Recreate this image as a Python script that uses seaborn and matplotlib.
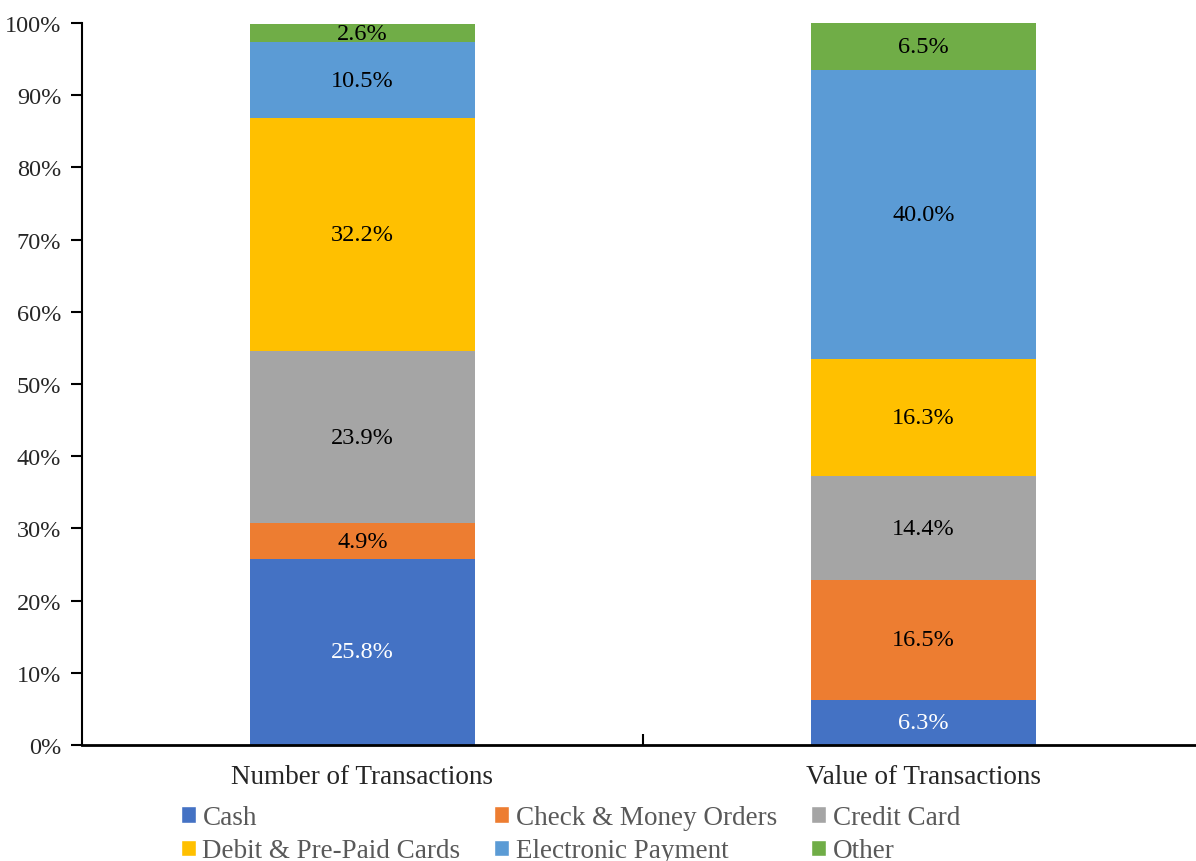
import numpy as np
import pandas as pd
import seaborn as sns
import matplotlib.pyplot as plt
from matplotlib.patches import Patch
from matplotlib.ticker import PercentFormatter

# data
groups = ['Number of Transactions', 'Value of Transactions']
methods = ['Cash', 'Check & Money Orders', 'Credit Card',
           'Debit & Pre-Paid Cards', 'Electronic Payment', 'Other']
number_share = [25.8, 4.9, 23.9, 32.2, 10.5, 2.6]
value_share = [6.3, 16.5, 14.4, 16.3, 40.0, 6.5]
colors = ['#4472C4', '#ED7D31', '#A5A5A5', '#FFC000', '#5B9BD5', '#70AD47']
label_colors = ['white', 'black', 'black', 'black', 'black', 'black']

df = pd.DataFrame({'method': methods * 2,
                   'group': [groups[0]] * 6 + [groups[1]] * 6,
                   'share': number_share + value_share})

sns.set_style('white')
plt.rcParams['font.family'] = ['Liberation Serif', 'DejaVu Serif']

fig = plt.figure(figsize=(11.96, 8.62), dpi=100)
ax = fig.add_axes([82 / 1196, 116 / 862, 1 - 82 / 1196, (746 - 24) / 862])

bottoms = np.zeros(len(groups))
for i, m in enumerate(methods):
    sub = df[df['method'] == m]
    vals = sub['share'].to_numpy()
    sns.barplot(data=sub, x='group', y='share', order=groups, color=colors[i],
                width=0.4, bottom=bottoms, saturation=1, errorbar=None, ax=ax,
                linewidth=0)
    for j, v in enumerate(vals):
        ax.text(j, bottoms[j] + v / 2, f'{v:.1f}%', ha='center', va='center',
                fontsize=17.5, color=label_colors[i])
    bottoms = bottoms + vals

ax.set_xlim(-0.5, 1.486)
ax.set_ylim(0, 100)
ax.set_yticks(np.arange(0, 101, 10))
ax.yaxis.set_major_formatter(PercentFormatter(decimals=0))
ax.set_xlabel('')
ax.set_ylabel('')
ax.set_xticks([0, 1])
ax.set_xticklabels(groups)
ax.set_xticks([0.5], minor=True)
ax.tick_params(axis='x', which='major', length=0, pad=14, labelsize=19.5)
ax.tick_params(axis='x', which='minor', direction='in', length=8, width=1.5,
               color='black', bottom=True)
ax.tick_params(axis='y', direction='out', length=8, width=1.5, color='black',
               left=True, pad=7, labelsize=17.5)
for s in ['top', 'right']:
    ax.spines[s].set_visible(False)
ax.spines['left'].set_color('black')
ax.spines['left'].set_linewidth(1.5)
ax.spines['bottom'].set_color('black')
ax.spines['bottom'].set_linewidth(2)

# legend, filled row by row like the original
order = [0, 3, 1, 4, 2, 5]
handles = [Patch(facecolor=colors[k], label=methods[k]) for k in order]
fig.legend(handles=handles, ncol=3, loc='center', bbox_to_anchor=(0.477, 0.031),
           frameon=False, fontsize=19.5, handlelength=0.55, handleheight=0.55,
           handletextpad=0.25, columnspacing=1.25, labelspacing=0.3,
           labelcolor='#595959', borderpad=0)

fig.savefig('out.png', dpi=100)
